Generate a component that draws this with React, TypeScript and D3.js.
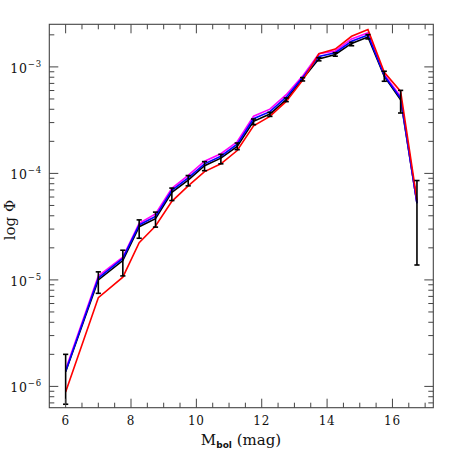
import React from "react";
import * as d3 from "d3";

const mbol = [6, 7, 7.75, 8.25, 8.75, 9.25, 9.75, 10.25, 10.75, 11.25, 11.75, 12.25, 12.75, 13.25, 13.75, 14.25, 14.75, 15.25, 15.75, 16.25, 16.75];

const observed = [1.37e-6, 1.0e-5, 1.52e-5, 3.16e-5, 3.76e-5, 6.64e-5, 8.65e-5, 1.18e-4, 1.39e-4, 1.79e-4, 3.08e-4, 3.61e-4, 4.92e-4, 7.71e-4, 1.19e-3, 1.31e-3, 1.66e-3, 1.91e-3, 8.16e-4, 4.92e-4, 5.26e-5];
const errUpper = [2.0e-6, 1.19e-5, 1.9e-5, 3.66e-5, 4.33e-5, 7.28e-5, 9.55e-5, 1.29e-4, 1.51e-4, 1.93e-4, 3.24e-4, 3.74e-4, 5.11e-4, 7.93e-4, 1.22e-3, 1.36e-3, 1.7e-3, 2.01e-3, 9.1e-4, 6.02e-4, 8.57e-5];
const errLower = [6.8e-7, 7.48e-6, 1.09e-5, 2.46e-5, 3.13e-5, 5.56e-5, 7.64e-5, 1.06e-4, 1.23e-4, 1.67e-4, 2.87e-4, 3.43e-4, 4.72e-4, 7.38e-4, 1.14e-3, 1.26e-3, 1.58e-3, 1.83e-3, 7.33e-4, 3.69e-4, 1.38e-5];

const modelBlue = [1.39e-6, 1.04e-5, 1.59e-5, 3.28e-5, 3.95e-5, 6.93e-5, 9.1e-5, 1.23e-4, 1.45e-4, 1.88e-4, 3.26e-4, 3.8e-4, 5.2e-4, 7.93e-4, 1.25e-3, 1.36e-3, 1.74e-3, 1.99e-3, 8.28e-4, 5.08e-4, 5.24e-5];
const modelMagenta = [1.44e-6, 1.09e-5, 1.64e-5, 3.4e-5, 4.17e-5, 7.24e-5, 9.6e-5, 1.3e-4, 1.53e-4, 1.98e-4, 3.44e-4, 4.01e-4, 5.48e-4, 8.19e-4, 1.33e-3, 1.41e-3, 1.83e-3, 2.09e-3, 8.47e-4, 5.26e-4, 5.28e-5];
const modelRed = [8.87e-7, 6.81e-6, 1.06e-5, 2.24e-5, 3.21e-5, 5.47e-5, 7.64e-5, 1.04e-4, 1.23e-4, 1.64e-4, 2.8e-4, 3.43e-4, 4.74e-4, 7.48e-4, 1.33e-3, 1.47e-3, 1.94e-3, 2.24e-3, 8.9e-4, 5.89e-4, 5.65e-5];

const xMajorTicks = [6, 8, 10, 12, 14, 16];
const yDecades = [-6, -5, -4, -3];

const W = 457, H = 457;
const L = 49.3, R = 433.3, T = 24.3, B = 407.7;
const FONT = "DejaVu Serif";
const AXC = "#444";

export default function App() {
  const x = d3.scaleLinear().domain([5.5, 17.25]).range([L, R]);
  const y = d3.scaleLog().domain([Math.pow(10, -6.2), Math.pow(10, -2.6)]).range([B, T]);

  const line = d3.line<[number, number]>().x(d => x(d[0])).y(d => y(d[1]));
  const pts = (arr: number[]) => mbol.map((m, i) => [m, arr[i]] as [number, number]);

  const xMinor = d3.range(6, 17.01, 0.5).filter(v => !xMajorTicks.includes(v));
  const yMinor: number[] = [];
  for (let d = -7; d <= -3; d++) for (let k = 2; k <= 9; k++) {
    const v = k * Math.pow(10, d);
    if (v > y.domain()[0] && v < y.domain()[1]) yMinor.push(v);
  }
  const MAJ = 9, MIN = 5;

  return (
    <svg width={W} height={H} style={{ position: "absolute", left: 0, top: 0, background: "#fff" }}>
      <path d={line(pts(observed)) || ""} fill="none" stroke="#000" strokeWidth={1.6} />
      <path d={line(pts(modelMagenta)) || ""} fill="none" stroke="#ff00ff" strokeWidth={1.6} />
      <path d={line(pts(modelBlue)) || ""} fill="none" stroke="#0000ff" strokeWidth={1.6} />
      <path d={line(pts(modelRed)) || ""} fill="none" stroke="#ff0000" strokeWidth={1.6} />
      {mbol.map((m, i) => (
        <g key={"e" + i} stroke="#000" strokeWidth={1.6}>
          <line x1={x(m)} x2={x(m)} y1={y(errUpper[i])} y2={y(errLower[i])} />
          <line x1={x(m) - 2.6} x2={x(m) + 2.6} y1={y(errUpper[i])} y2={y(errUpper[i])} />
          <line x1={x(m) - 2.6} x2={x(m) + 2.6} y1={y(errLower[i])} y2={y(errLower[i])} />
        </g>
      ))}
      <rect x={L} y={T} width={R - L} height={B - T} fill="none" stroke={AXC} strokeWidth={1.1} />
      <g stroke={AXC} strokeWidth={1}>
        {xMajorTicks.map(v => (
          <g key={"xm" + v}>
            <line x1={x(v)} x2={x(v)} y1={B} y2={B - MAJ} />
            <line x1={x(v)} x2={x(v)} y1={T} y2={T + MAJ} />
          </g>
        ))}
        {xMinor.map(v => (
          <g key={"xn" + v}>
            <line x1={x(v)} x2={x(v)} y1={B} y2={B - MIN} />
            <line x1={x(v)} x2={x(v)} y1={T} y2={T + MIN} />
          </g>
        ))}
        {yDecades.map(d => (
          <g key={"ym" + d}>
            <line x1={L} x2={L + MAJ} y1={y(Math.pow(10, d))} y2={y(Math.pow(10, d))} />
            <line x1={R} x2={R - MAJ} y1={y(Math.pow(10, d))} y2={y(Math.pow(10, d))} />
          </g>
        ))}
        {yMinor.map((v, i) => (
          <g key={"yn" + i}>
            <line x1={L} x2={L + MIN} y1={y(v)} y2={y(v)} />
            <line x1={R} x2={R - MIN} y1={y(v)} y2={y(v)} />
          </g>
        ))}
      </g>
      {xMajorTicks.map(v => (
        <text key={"xl" + v} x={x(v)} y={425} textAnchor="middle" fontFamily={FONT} fontSize={12} fill="#111" letterSpacing={0.8}>{v}</text>
      ))}
      {yDecades.map(d => (
        <text key={"yl" + d} x={42} y={y(Math.pow(10, d)) + 6} textAnchor="end" fontFamily={FONT} fontSize={12.5} fill="#111" letterSpacing={0.8}>
          10<tspan dy={-6} fontSize={8.5}>{"\u2212" + Math.abs(d)}</tspan>
        </text>
      ))}
      <text x={241} y={445} textAnchor="middle" fontFamily={FONT} fontSize={15} fill="#111">
        M<tspan dy={3} fontSize={9} fontFamily="DejaVu Sans" fontWeight="bold">bol</tspan>
        <tspan dy={-3}>{"\u00a0(mag)"}</tspan>
      </text>
      <text transform={`translate(15, 220) rotate(-90)`} textAnchor="middle" fontFamily={FONT} fontSize={15} fill="#111">
        log Φ
      </text>
    </svg>
  );
}
